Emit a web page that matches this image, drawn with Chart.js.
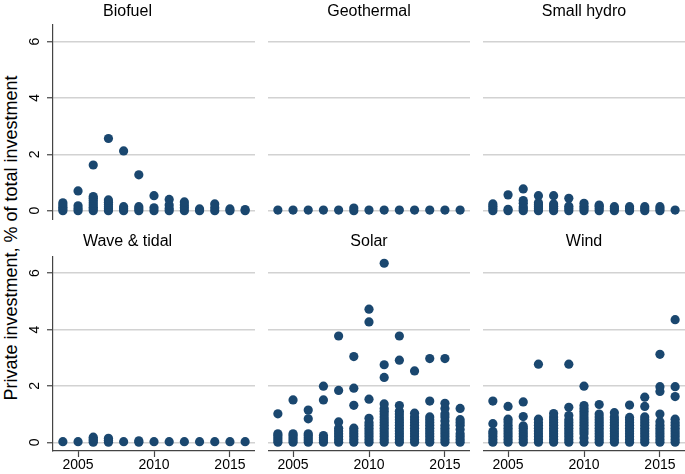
<!DOCTYPE html>
<html>
<head>
<meta charset="utf-8">
<script src="https://cdn.jsdelivr.net/npm/chart.js@4"></script>
<style>
  body { margin: 0; background: #fff; }
  #wrap { position: relative; width: 685px; height: 474px; overflow: hidden; font-family: 'Liberation Sans', Arial, sans-serif; }
  #wrap canvas { position: absolute; }
  #ytitle {
    position: absolute; left: 11px; top: 238px;
    transform: translate(-50%, -50%) rotate(-90deg);
    font-size: 18px; white-space: nowrap; color: #000;
  }
</style>
</head>
<body>
<div id="wrap">
  <div id="ytitle">Private investment, % of total investment</div>
</div>
<script>
/* Valores: uma lista por ano (2004..2016) em cada painel */
const years = [2004, 2005, 2006, 2007, 2008, 2009, 2010, 2011, 2012, 2013, 2014, 2015, 2016];
const xTicks = [2005, 2010, 2015];
const yTicks = [0, 2, 4, 6];
const panelTitles = ['Biofuel', 'Geothermal', 'Small hydro', 'Wave & tidal', 'Solar', 'Wind'];

const biofuelVals = [
  [0, 0.06, 0.12, 0.2, 0.28],
  [0, 0.08, 0.17, 0.7],
  [0, 0.06, 0.12, 0.2, 0.28, 0.36, 0.44, 0.5, 1.62],
  [0, 0.07, 0.14, 0.22, 0.3, 0.38, 2.56],
  [0, 0.07, 0.14, 2.12],
  [0, 0.07, 0.14, 1.27],
  [0, 0.1, 0.53],
  [0, 0.08, 0.2, 0.4],
  [0, 0.1, 0.2, 0.31],
  [0, 0.06],
  [0, 0.1, 0.24],
  [0, 0.06],
  [0, 0.04]
];
const geothermalVals = [
  [0.02], [0.02], [0.02], [0.02], [0.02], [0, 0.09], [0.02],
  [0.02], [0.02], [0.02], [0.02], [0.02], [0.02]
];
const smallHydroVals = [
  [0, 0.08, 0.16, 0.24],
  [0, 0.05, 0.56],
  [0, 0.07, 0.14, 0.26, 0.36, 0.77],
  [0, 0.07, 0.14, 0.21, 0.28, 0.53],
  [0, 0.08, 0.16, 0.24, 0.53],
  [0, 0.08, 0.16, 0.44],
  [0, 0.08, 0.16, 0.26],
  [0, 0.08, 0.16, 0.2],
  [0, 0.07, 0.14],
  [0, 0.07, 0.14],
  [0, 0.07, 0.14],
  [0, 0.07, 0.14],
  [0.02]
];
const waveTidalVals = [
  [0.02], [0.02], [0, 0.06, 0.12, 0.18], [0, 0.07, 0.14], [0.02], [0, 0.05],
  [0.02], [0.02], [0.02], [0.02], [0.02], [0.02], [0.02]
];
const solarVals = [
  [0, 0.08, 0.16, 0.24, 0.3, 1.01],
  [0, 0.08, 0.16, 0.24, 0.3, 1.5],
  [0, 0.08, 0.16, 0.24, 0.3, 0.83, 1.14],
  [0, 0.08, 0.16, 0.24, 1.5, 1.99],
  [0, 0.1, 0.2, 0.3, 0.4, 0.5, 0.72, 1.84, 3.77],
  [0, 0.1, 0.2, 0.3, 0.4, 0.5, 1.31, 1.92, 3.04],
  [0, 0.1, 0.2, 0.3, 0.4, 0.5, 0.6, 0.7, 0.85, 1.53, 4.27, 4.72],
  [0, 0.1, 0.2, 0.3, 0.4, 0.5, 0.6, 0.7, 0.8, 0.9, 1.0, 1.1, 1.2, 1.36, 2.3, 2.75, 6.35],
  [0, 0.1, 0.2, 0.3, 0.4, 0.5, 0.6, 0.7, 0.8, 0.9, 1.0, 1.1, 1.3, 2.91, 3.77],
  [0, 0.1, 0.2, 0.3, 0.4, 0.5, 0.6, 0.7, 0.8, 0.9, 1.03, 2.53],
  [0, 0.1, 0.2, 0.3, 0.4, 0.5, 0.6, 0.7, 0.8, 0.9, 1.46, 2.97],
  [0, 0.1, 0.2, 0.3, 0.4, 0.5, 0.6, 0.75, 0.9, 1.0, 1.2, 1.38, 2.97],
  [0, 0.1, 0.2, 0.3, 0.45, 0.6, 0.7, 0.8, 1.2]
];
const windVals = [
  [0, 0.1, 0.2, 0.3, 0.38, 0.66, 1.46],
  [0, 0.1, 0.2, 0.3, 0.4, 0.5, 0.6, 0.72, 0.82, 1.27],
  [0, 0.1, 0.2, 0.3, 0.4, 0.5, 0.58, 0.91, 1.43],
  [0, 0.1, 0.2, 0.3, 0.4, 0.5, 0.6, 0.7, 0.82, 2.77],
  [0, 0.1, 0.2, 0.3, 0.4, 0.5, 0.6, 0.7, 0.8, 0.9, 1.02],
  [0, 0.1, 0.2, 0.3, 0.4, 0.5, 0.6, 0.7, 0.8, 0.95, 1.24, 2.77],
  [0, 0.15, 0.3, 0.4, 0.5, 0.6, 0.7, 0.8, 0.9, 1.0, 1.1, 1.2, 1.3, 1.99],
  [0, 0.1, 0.2, 0.3, 0.4, 0.5, 0.6, 0.7, 0.8, 0.9, 1.0, 1.34],
  [0, 0.1, 0.2, 0.3, 0.4, 0.5, 0.6, 0.7, 0.8, 0.9, 1.05],
  [0, 0.1, 0.2, 0.3, 0.4, 0.5, 0.6, 0.7, 0.8, 0.88, 1.32],
  [0, 0.1, 0.2, 0.3, 0.4, 0.5, 0.6, 0.7, 0.8, 0.9, 1.27, 1.6],
  [0, 0.1, 0.2, 0.3, 0.4, 0.5, 0.6, 0.73, 1.0, 1.8, 1.97, 3.12],
  [0, 0.1, 0.2, 0.3, 0.4, 0.5, 0.6, 0.7, 0.82, 1.62, 1.97, 4.35]
];

const panelVals = [biofuelVals, geothermalVals, smallHydroVals, waveTidalVals, solarVals, windVals];

/* ── Geometria (px) ── */
const FONT = "'Liberation Sans', Arial, sans-serif";
const NAVY = '#1a476f';
const AXIS = '#444';
const GRID = '#d2d2d2';
const COL_LEFT = [0, 268, 483];
const COL_W = [255, 202, 202];
const ROW_TOP = [0, 232];
const ROW_H = [220, 242];
const TITLE_PAD = [{ top: 2.4, bottom: 3.0 }, { top: 0.1, bottom: 4.9 }];

function toPoints(vals) {
  const pts = [];
  vals.forEach((list, i) => list.forEach(v => pts.push({ x: years[i], y: v })));
  return pts;
}

function makePanel(idx) {
  const col = idx % 3, row = Math.floor(idx / 3);
  const canvas = document.createElement('canvas');
  canvas.width = COL_W[col];
  canvas.height = ROW_H[row];
  canvas.style.left = COL_LEFT[col] + 'px';
  canvas.style.top = ROW_TOP[row] + 'px';
  document.getElementById('wrap').appendChild(canvas);

  const leftCol = col === 0, bottomRow = row === 1;

  return new Chart(canvas, {
    type: 'scatter',
    data: {
      datasets: [{
        data: toPoints(panelVals[idx]),
        backgroundColor: NAVY,
        borderWidth: 0,
        pointRadius: 4.6,
        pointHoverRadius: 4.6,
        clip: false
      }]
    },
    options: {
      responsive: false,
      animation: false,
      events: [],
      layout: { autoPadding: false, padding: { left: 0, right: 0, top: 0, bottom: bottomRow ? 0 : 0.6 } },
      plugins: {
        legend: { display: false },
        tooltip: { enabled: false },
        title: {
          display: true, text: panelTitles[idx], color: '#000',
          font: { family: FONT, size: 16, weight: 'normal' },
          padding: TITLE_PAD[row]
        }
      },
      scales: {
        x: {
          type: 'linear', min: 2003.35, max: 2016.65,
          display: bottomRow,
          afterBuildTicks: a => { a.ticks = xTicks.map(v => ({ value: v })); },
          // só a linha de baixo reserva espaço para o eixo x
          afterFit: a => { a.height = bottomRow ? 23 : 0; a.paddingLeft = a.paddingRight = 0; },
          ticks: { color: '#000', font: { family: FONT, size: 14 }, padding: 0, maxRotation: 0, callback: v => String(v) },
          grid: { drawOnChartArea: false, drawTicks: true, tickLength: 6, tickColor: AXIS, tickWidth: 1.2 },
          border: { display: true, color: AXIS, width: 1.2 }
        },
        y: {
          type: 'linear', min: -0.31, max: 6.6, position: 'left',
          afterBuildTicks: a => { a.ticks = yTicks.map(v => ({ value: v })); },
          // rótulos girados geram padding extra embaixo; zera para não encolher a área
          afterFit: a => { a.width = leftCol ? 53 : 0; a.paddingTop = a.paddingBottom = 0; },
          ticks: {
            display: leftCol, color: '#000', font: { family: FONT, size: 14 },
            minRotation: 90, maxRotation: 90, crossAlign: 'center', padding: 8
          },
          grid: { color: GRID, lineWidth: 1.5, drawTicks: leftCol, tickLength: 6, tickColor: AXIS, tickWidth: 1.2 },
          border: { display: leftCol, color: AXIS, width: 1.2 }
        }
      }
    }
  });
}

panelTitles.forEach((t, i) => makePanel(i));
</script>
</body>
</html>
